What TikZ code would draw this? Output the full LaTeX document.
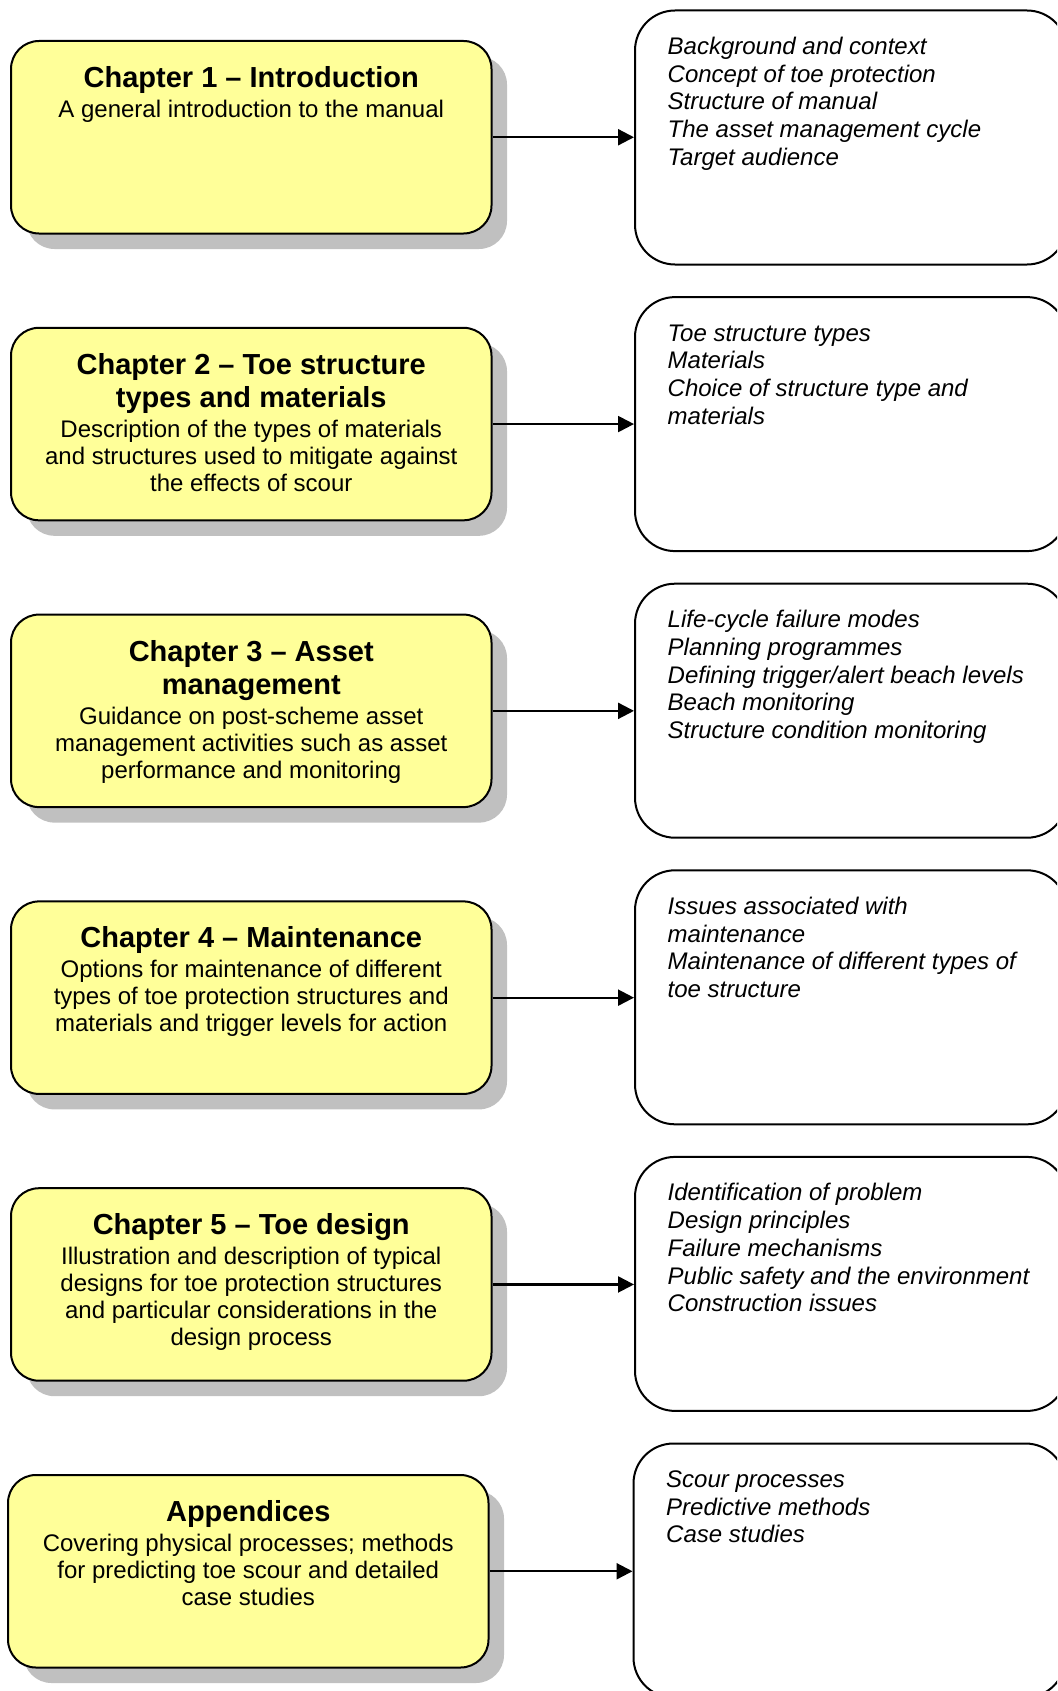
\documentclass[tikz,border=0pt]{standalone}
\usepackage{fontspec}
\setmainfont{Liberation Sans}
\usetikzlibrary{arrows.meta,shadows}

\definecolor{boxyellow}{RGB}{255,255,153}
\definecolor{shadowgrey}{RGB}{192,192,192}

% text styles for the chapter boxes and the topic lists (natural word spaces)
\newcommand\chtitlefont{\fontsize{29}{33}\selectfont\bfseries\spaceskip=0pt\xspaceskip=0pt\relax}
\newcommand\chbodyfont{\fontsize{24}{27}\selectfont\mdseries\spaceskip=0pt\xspaceskip=0pt\relax}
\newcommand\topicfont{\fontsize{24}{27.7}\selectfont\itshape\spaceskip=0pt\xspaceskip=0pt\relax}

\tikzset{
  chapter/.style={rectangle, rounded corners=28pt, draw=black, line width=2pt,
    fill=boxyellow, minimum width=480.5pt, minimum height=192.5pt, inner sep=0pt,
    drop shadow={shadow xshift=15.5pt, shadow yshift=-15.5pt, fill=shadowgrey, opacity=1}},
  topics/.style={rectangle, rounded corners=40pt, draw=black, line width=2pt,
    fill=white, minimum width=432pt, minimum height=254pt, inner sep=0pt},
  chtext/.style={anchor=base, text width=470pt, align=flush center, inner sep=0pt},
  topictext/.style={anchor=base west, text width=395pt, align=flush left, inner sep=0pt},
  link/.style={line width=2.2pt, -{Triangle[length=16pt,width=16pt]}},
}

\begin{document}
\begin{tikzpicture}[x=1pt,y=-1pt]
  \useasboundingbox (0,0) rectangle (1057,1691);
  \clip (0,0) rectangle (1057,1691);

  % chapter boxes (left column)
  \node[chapter] (c1) at (251.25,137.25) {};
  \node[chapter] (c2) at (251.25,424.05) {};
  \node[chapter] (c3) at (251.25,710.85) {};
  \node[chapter] (c4) at (251.25,997.65) {};
  \node[chapter] (c5) at (251.25,1284.45) {};
  \node[chapter] (ca) at (248.25,1571.25) {};

  % topic boxes (right column)
  \node[topics] (r1) at (851,137.5) {};
  \node[topics] (r2) at (851,424.1) {};
  \node[topics] (r3) at (851,710.7) {};
  \node[topics] (r4) at (851,997.3) {};
  \node[topics] (r5) at (851,1283.9) {};
  \node[topics] (ra) at (849.5,1570.5) {};

  % chapter texts
  \node[chtext] (c1t) at (251.25,87.5)
    {{\chtitlefont Chapter 1 – Introduction\par}\vskip3pt
     {\chbodyfont A general introduction to the manual\par}};
  \node[chtext] (c2t) at (251.25,374.8)
    {{\chtitlefont Chapter 2 – Toe structure\\ types and materials\par}\vskip3pt
     {\chbodyfont Description of the types of materials\\ and structures used to mitigate against\\ the effects of scour\par}};
  \node[chtext] (c3t) at (251.25,661.6)
    {{\chtitlefont Chapter 3 – Asset\\ management\par}\vskip3pt
     {\chbodyfont Guidance on post-scheme asset\\ management activities such as asset\\ performance and monitoring\par}};
  \node[chtext] (c4t) at (251.25,947.9)
    {{\chtitlefont Chapter 4 – Maintenance\par}\vskip3pt
     {\chbodyfont Options for maintenance of different\\ types of toe protection structures and\\ materials and trigger levels for action\par}};
  \node[chtext] (c5t) at (251.25,1234.7)
    {{\chtitlefont Chapter 5 – Toe design\par}\vskip3pt
     {\chbodyfont Illustration and description of typical\\ designs for toe protection structures\\ and particular considerations in the\\ design process\par}};
  \node[chtext] (cat) at (248.25,1521.5)
    {{\chtitlefont Appendices\par}\vskip3pt
     {\chbodyfont Covering physical processes; methods\\ for predicting toe scour and detailed\\ case studies\par}};

  % topic lists
  \node[topictext] (r1t) at (667.5,54.5)
    {\topicfont Background and context\\ Concept of toe protection\\ Structure of manual\\ The asset management cycle\\ Target audience\par};
  \node[topictext] (r2t) at (667.5,341.1)
    {\topicfont Toe structure types\\ Materials\\ Choice of structure type and\\ materials\par};
  \node[topictext] (r3t) at (667.5,627.7)
    {\topicfont Life-cycle failure modes\\ Planning programmes\\ Defining trigger/alert beach levels\\ Beach monitoring\\ Structure condition monitoring\par};
  \node[topictext] (r4t) at (667.5,914.3)
    {\topicfont Issues associated with\\ maintenance\\ Maintenance of different types of\\ toe structure\par};
  \node[topictext] (r5t) at (667.5,1200.9)
    {\topicfont Identification of problem\\ Design principles\\ Failure mechanisms\\ Public safety and the environment\\ Construction issues\par};
  \node[topictext] (rat) at (666,1487.5)
    {\topicfont Scour processes\\ Predictive methods\\ Case studies\par};

  % connectors
  \draw[link] (c1.east) -- (c1.east -| r1.west);
  \draw[link] (c2.east) -- (c2.east -| r2.west);
  \draw[link] (c3.east) -- (c3.east -| r3.west);
  \draw[link] (c4.east) -- (c4.east -| r4.west);
  \draw[link] (c5.east) -- (c5.east -| r5.west);
  \draw[link] (ca.east) -- (ca.east -| ra.west);
\end{tikzpicture}
\end{document}
